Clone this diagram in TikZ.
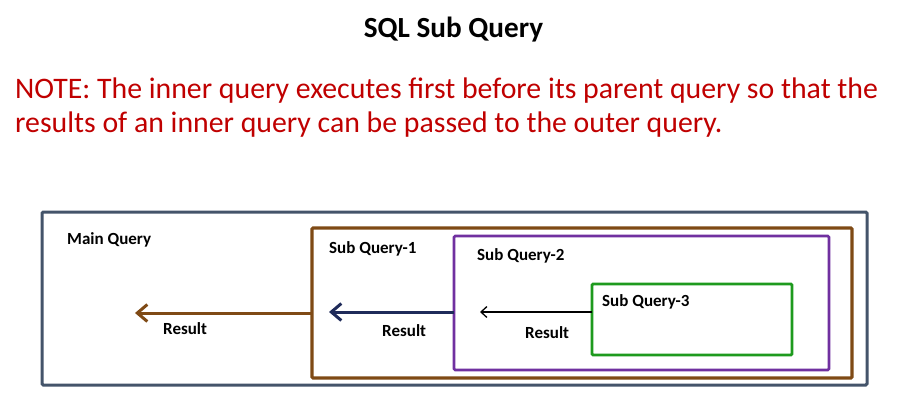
\documentclass[tikz,border=0pt]{standalone}
\usepackage{fontspec}
\setmainfont{Carlito}
\usetikzlibrary{arrows.meta}
\definecolor{slate}{HTML}{44546A}
\definecolor{qbrown}{HTML}{7F4A15}
\definecolor{qpurple}{HTML}{7030A0}
\definecolor{qgreen}{HTML}{1E9A1E}
\definecolor{qnavy}{HTML}{1F2B5A}
\definecolor{notered}{HTML}{C00000}
\tikzset{
  qbox/.style={draw, rectangle, rounded corners=1.2pt, inner sep=0pt, outer sep=0pt},
  lbl/.style={font=\fontsize{17}{20}\selectfont\bfseries, anchor=base west, inner sep=0pt},
  notetext/.style={font=\fontsize{29.8}{34}\selectfont, text=notered, anchor=base west, inner sep=0pt},
  thickarrow/.style={line width=3pt, -{Straight Barb[length=10pt, width=17pt, line width=3pt]}},
  thinarrow/.style={line width=1.3pt, -{Straight Barb[length=6pt, width=11pt, line width=1.3pt]}},
}
\begin{document}
\begin{tikzpicture}[x=1pt, y=-1pt]
\useasboundingbox[fill=white] (0,0) rectangle (902,417);

% heading and note
\node[font=\fontsize{29.2}{34}\selectfont\bfseries, anchor=base, inner sep=0pt] (title) at (453.5,38) {SQL Sub Query};
\node[notetext] (note1) at (15,99) {NOTE: The inner query executes first before its parent query so that the};
\node[notetext] (note2) at (15,133) {results of an inner query can be passed to the outer query.};

% nested query boxes
\node[qbox, draw=slate, line width=3pt, minimum width=825pt, minimum height=173pt] (main) at (454.5,298.5) {};
\node[qbox, draw=qbrown, line width=3.2pt, minimum width=540pt, minimum height=150pt] (sq1) at (582,303) {};
\node[qbox, draw=qpurple, line width=2.6pt, minimum width=375pt, minimum height=134pt] (sq2) at (641.5,303) {};
\node[qbox, draw=qgreen, line width=2.8pt, minimum width=200pt, minimum height=71pt] (sq3) at (692,319.5) {};

% box titles
\node[lbl] (lmain) at (67,244) {Main Query};
\node[lbl] (lsq1) at (329,253) {Sub Query-1};
\node[lbl] (lsq2) at (477,260) {Sub Query-2};
\node[lbl] (lsq3) at (602,306) {Sub Query-3};

% results passed outward
\coordinate (tip1) at (135,313);
\coordinate (tip2) at (329,312);
\coordinate (tip3) at (480,312);
\draw[thickarrow, draw=qbrown] (tip1 -| sq1.west) -- (tip1);
\draw[thickarrow, draw=qnavy] (tip2 -| sq2.west) -- (tip2);
\draw[thinarrow, draw=black] (tip3 -| sq3.west) -- (tip3);

\node[lbl] (r1) at (163,334) {Result};
\node[lbl] (r2) at (382,336) {Result};
\node[lbl] (r3) at (525,338) {Result};
\end{tikzpicture}
\end{document}
